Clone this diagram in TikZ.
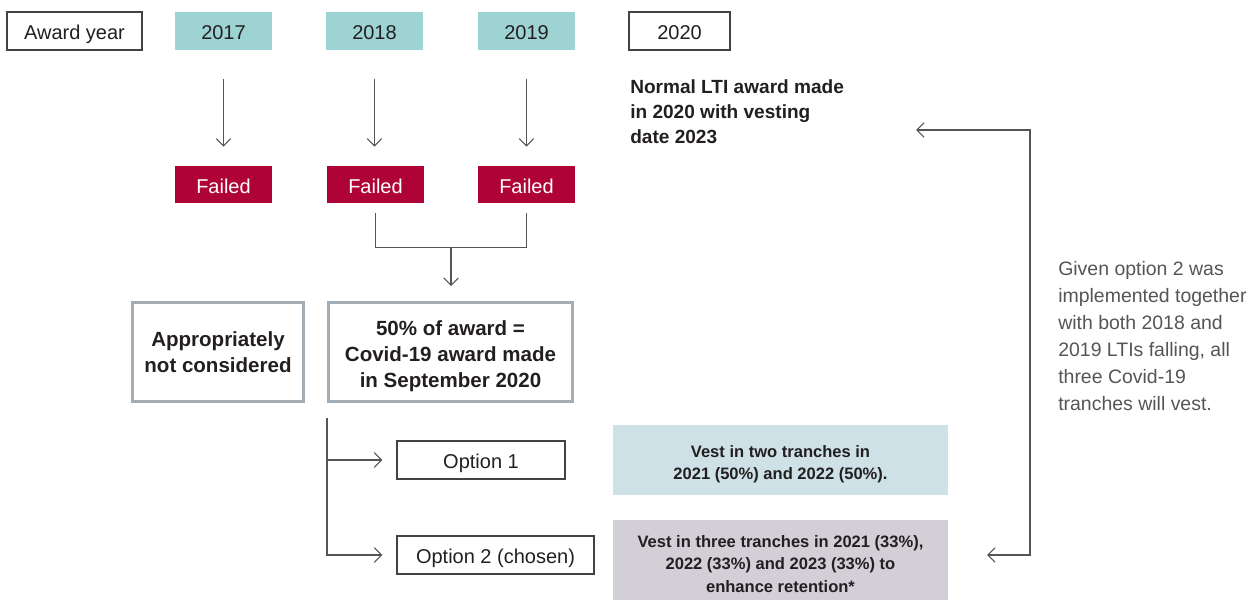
\documentclass[tikz,border=0pt]{standalone}
\usepackage{fontspec}
\setmainfont{Liberation Sans}
\usetikzlibrary{arrows.meta,calc}
\definecolor{ink}{HTML}{231F20}
\definecolor{teal}{HTML}{9ED3D4}
\definecolor{crimson}{HTML}{B00335}
\definecolor{frame}{HTML}{A3ADB5}
\definecolor{paleblue}{HTML}{CDE1E6}
\definecolor{palegrey}{HTML}{D2CFD6}
\definecolor{wire}{HTML}{555555}
\definecolor{note}{HTML}{555555}
\begin{document}
\begin{tikzpicture}[x=0.75pt,y=-0.75pt,
  every node/.style={inner sep=0pt,text=ink},
  label/.style={font=\fontsize{15}{18}\selectfont,text height=12.8pt,text depth=0pt},
  outline/.style={draw=ink!85,line width=1pt,fill=white,minimum height=28.5pt,label},
  yearbox/.style={fill=teal,minimum width=72.75pt,minimum height=28.5pt,label},
  failbox/.style={fill=crimson,minimum width=72.75pt,minimum height=27.75pt,label,text=white},
  bigbox/.style={draw=frame,line width=2.25pt,minimum height=74.25pt,align=center,
    font=\bfseries\fontsize{15.4}{19.6}\selectfont},
  vestbox/.style={minimum width=251.25pt,align=center,
    font=\bfseries\fontsize{12.4}{16.2}\selectfont},
  wire/.style={draw=wire,line width=0.8pt},
  arr/.style={wire,-{Straight Barb[length=5.5pt,width=11pt]}},
]
\useasboundingbox (0,0) rectangle (1249,600);

% header row
\node[outline,minimum width=101.25pt] (award) at (74.5,31) {Award year};
\node[yearbox] (y17) at (223.5,31) {2017};
\node[yearbox] (y18) at (374.5,31) {2018};
\node[yearbox] (y19) at (526.5,31) {2019};
\node[outline,minimum width=75.75pt] (y20) at (679.5,31) {2020};

% outcomes
\node[failbox] (f17) at (223.5,184.5) {Failed};
\node[failbox] (f18) at (375.5,184.5) {Failed};
\node[failbox] (f19) at (526.5,184.5) {Failed};

\foreach \a/\b in {y17/f17,y18/f18,y19/f19}
  \draw[arr,shorten <=21.75pt,shorten >=14.25pt] (\a.south) -- (\a.south |- \b.north);

% note on the 2020 award
\node[anchor=north west,align=left,font=\bfseries\fontsize{14.3}{18.8}\selectfont]
  (normal) at (630,79) {Normal LTI award made\\in 2020 with vesting\\date 2023};

% bracket joining 2018 and 2019
\coordinate (bl) at ($(f18.south)+(0,44)$);
\coordinate (br) at ($(f19.south)+(0,44)$);
\draw[wire] ($(f18.south)+(0,10)$) -- (bl) -- (br) -- ($(f19.south)+(0,10)$);
\coordinate (bm) at ($(bl)!0.5!(br)$);

% consequence boxes
\node[bigbox,minimum width=128.25pt] (approp) at (218,352) {Appropriately\\not considered};
\node[bigbox,minimum width=183pt] (covid) at (450.5,352)
  {\rule{0pt}{17pt}50\% of award =\\Covid-19 award made\\in September 2020};
\draw[arr,shorten >=11.25pt] (bm) -- (bm |- covid.north);

% options
\node[outline,minimum width=126pt] (opt1) at (481,460) {Option 1};
\node[outline,minimum width=147.75pt] (opt2) at (495.5,555) {Option 2 (chosen)};
\coordinate (trunk) at ($(covid.south west)+(0,15)$);
\draw[arr,shorten >=10.5pt] (trunk) |- (opt1.west);
\draw[arr,shorten >=10.5pt] (trunk) |- (opt2.west);

\node[vestbox,fill=paleblue,minimum height=52.5pt] (vest1) at (780.5,460)
  {\rule{0pt}{15pt}Vest in two tranches in\\2021 (50\%) and 2022 (50\%).};
\node[vestbox,fill=palegrey,minimum height=60pt,font=\bfseries\fontsize{12.4}{16.9}\selectfont] (vest2) at (780.5,560)
  {\rule{0pt}{15pt}Vest in three tranches in 2021 (33\%),\\2022 (33\%) and 2023 (33\%) to\\enhance retention*};

% return bracket on the right
\coordinate (rt) at (1030,130);
\coordinate (rb) at (1030,555);
\coordinate (ut) at (916,130);
\coordinate (lt) at (987,555);
\draw[wire,{Straight Barb[length=5.5pt,width=11pt]}-{Straight Barb[length=5.5pt,width=11pt]}]
  (ut) -- (rt) -- (rb) -- (lt);

\node[anchor=north west,align=left,text=note,font=\fontsize{14.6}{20.2}\selectfont]
  (given) at (1058,261) {Given option 2 was\\implemented together\\with both 2018 and\\2019 LTIs falling, all\\three Covid-19\\tranches will vest.};
\end{tikzpicture}
\end{document}
